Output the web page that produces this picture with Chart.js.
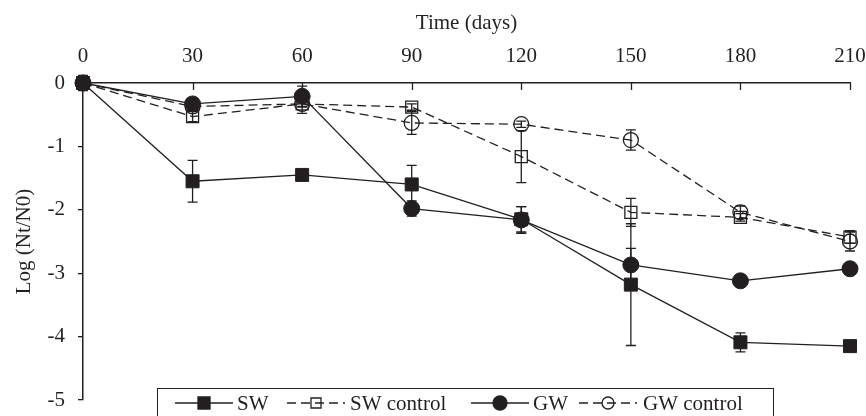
<!DOCTYPE html>
<html>
<head>
<meta charset="utf-8">
<script src="https://cdn.jsdelivr.net/npm/chart.js@4/dist/chart.umd.min.js"></script>
<style>
  html, body { margin: 0; padding: 0; background: #fff; }
  #wrap { width: 866px; height: 416px; }
</style>
</head>
<body>
<div id="wrap"><canvas id="decayChart" width="866" height="416"></canvas></div>
<script>
// Data
const days = [0, 30, 60, 90, 120, 150, 180, 210];
const xTicks = [0, 30, 60, 90, 120, 150, 180, 210];
const yTicks = [0, -1, -2, -3, -4, -5];
const yTickLabels = ['0', '-1', '-2', '-3', '-4', '-5'];

const sw = [0, -1.55, -1.45, -1.60, -2.15, -3.18, -4.09, -4.15];
const swErr = [0.12, 0.33, 0, 0.30, 0.20, 0.96, 0.15, 0];
const swControl = [0, -0.53, -0.33, -0.38, -1.16, -2.04, -2.12, -2.43];
const swControlErr = [0, 0.08, 0.05, 0.05, 0.41, 0.22, 0.06, 0.10];
const gw = [0, -0.33, -0.21, -1.98, -2.16, -2.87, -3.12, -2.93];
const gwErr = [0.05, 0.05, 0.16, 0.12, 0.21, 0.26, 0, 0];
const gwControl = [0, -0.37, -0.33, -0.63, -0.65, -0.90, -2.04, -2.50];
const gwControlErr = [0.03, 0.05, 0.15, 0.18, 0.05, 0.16, 0.10, 0.15];

const ink = '#231f20';
const dash = [9, 5];

Chart.defaults.font.family = "'Liberation Serif', 'Times New Roman', serif";
Chart.defaults.font.size = 21;
Chart.defaults.color = ink;

function points(values) {
    return days.map((d, i) => ({ x: d, y: values[i] }));
}

// Vertical error bars, drawn under the markers
const errorBars = {
    id: 'errorBars',
    beforeDatasetsDraw(chart) {
        const { ctx, scales: { x, y } } = chart;
        ctx.save();
        ctx.strokeStyle = ink;
        ctx.lineWidth = 1.3;
        chart.data.datasets.forEach(ds => {
            ds.errors.forEach((e, i) => {
                if (!e) return;
                const px = x.getPixelForValue(days[i]);
                const y1 = y.getPixelForValue(ds.data[i].y + e);
                const y2 = y.getPixelForValue(ds.data[i].y - e);
                ctx.beginPath();
                ctx.moveTo(px, y1); ctx.lineTo(px, y2);
                ctx.moveTo(px - 5, y1); ctx.lineTo(px + 5, y1);
                ctx.moveTo(px - 5, y2); ctx.lineTo(px + 5, y2);
                ctx.stroke();
            });
        });
        ctx.restore();
    }
};

// Tick marks of the top axis point down into the plot
const topTicks = {
    id: 'topTicks',
    afterDraw(chart) {
        const { ctx, chartArea, scales: { x } } = chart;
        ctx.save();
        ctx.strokeStyle = ink;
        ctx.lineWidth = 1.3;
        xTicks.forEach(v => {
            if (v === 0) return;
            const px = Math.round(x.getPixelForValue(v)) + 0.5;
            ctx.beginPath();
            ctx.moveTo(px, chartArea.top);
            ctx.lineTo(px, chartArea.top + 7);
            ctx.stroke();
        });
        ctx.restore();
    }
};

// Boxed legend at the bottom, like the original figure
const boxLegend = {
    id: 'boxLegend',
    afterDraw(chart) {
        const ctx = chart.ctx;
        const items = [
            { ds: 0, x1: 175, x2: 233, tx: 237 },
            { ds: 1, x1: 287, x2: 345, tx: 350 },
            { ds: 2, x1: 471, x2: 529, tx: 533 },
            { ds: 3, x1: 579, x2: 637, tx: 643 }
        ];
        const cy = 403;
        ctx.save();
        ctx.fillStyle = '#fff';
        ctx.fillRect(157.5, 388.5, 616, 40);
        ctx.strokeStyle = ink;
        ctx.lineWidth = 1;
        ctx.strokeRect(157.5, 388.5, 616, 40);
        items.forEach(it => {
            const ds = chart.data.datasets[it.ds];
            ctx.strokeStyle = ink;
            ctx.lineWidth = 1.3;
            ctx.setLineDash(ds.borderDash || []);
            ctx.beginPath();
            ctx.moveTo(it.x1, cy);
            ctx.lineTo(it.x2, cy);
            ctx.stroke();
            ctx.setLineDash([]);
            const mx = (it.x1 + it.x2) / 2;
            const filled = ds.pointBackgroundColor === ink;
            ctx.beginPath();
            if (ds.pointStyle === 'rect') {
                const h = filled ? 6 : 5;
                ctx.rect(mx - h, cy - h, 2 * h, 2 * h);
            } else {
                ctx.arc(mx, cy, filled ? 7 : 6, 0, Math.PI * 2);
            }
            if (filled) {
                ctx.fillStyle = ink;
                ctx.fill();
            }
            ctx.stroke();
            ctx.fillStyle = ink;
            ctx.font = "21px 'Liberation Serif', 'Times New Roman', serif";
            ctx.textBaseline = 'middle';
            ctx.textAlign = 'left';
            ctx.fillText(ds.label, it.tx, cy + 1);
        });
        ctx.restore();
    }
};

const datasets = [
    {
        label: 'SW', data: points(sw), errors: swErr, order: 1,
        borderColor: ink, borderWidth: 1.3,
        pointStyle: 'rect', pointRadius: 9.2, pointBackgroundColor: ink, pointBorderColor: ink, pointBorderWidth: 1
    },
    {
        label: 'SW control', data: points(swControl), errors: swControlErr, order: 2,
        borderColor: ink, borderWidth: 1.3, borderDash: dash,
        pointStyle: 'rect', pointRadius: 8.5, pointBackgroundColor: 'rgba(0,0,0,0)', pointBorderColor: ink, pointBorderWidth: 1.3
    },
    {
        label: 'GW', data: points(gw), errors: gwErr, order: 0,
        borderColor: ink, borderWidth: 1.3,
        pointStyle: 'circle', pointRadius: 8, pointBackgroundColor: ink, pointBorderColor: ink, pointBorderWidth: 1
    },
    {
        label: 'GW control', data: points(gwControl), errors: gwControlErr, order: 3,
        borderColor: ink, borderWidth: 1.3, borderDash: dash,
        pointStyle: 'circle', pointRadius: 7.5, pointBackgroundColor: 'rgba(0,0,0,0)', pointBorderColor: ink, pointBorderWidth: 1.3
    }
];

new Chart(document.getElementById('decayChart').getContext('2d'), {
    type: 'line',
    data: { datasets: datasets },
    options: {
        responsive: false,
        animation: false,
        clip: false,
        layout: { padding: { left: 0, top: 0, right: 16, bottom: 16 } },
        plugins: { legend: { display: false }, tooltip: { enabled: false } },
        elements: { line: { tension: 0 } },
        datasets: { line: { clip: false } },
        scales: {
            x: {
                type: 'linear',
                position: 'top',
                min: 0,
                max: 210,
                afterBuildTicks: s => { s.ticks = xTicks.map(v => ({ value: v })); },
                afterFit: s => { s.height = 83; s.paddingLeft = 0; s.paddingRight = 0; },
                grid: { display: false, drawTicks: false },
                border: { display: true, color: ink, width: 1.5 },
                ticks: { padding: 14, color: ink, maxRotation: 0 },
                title: { display: true, text: 'Time (days)', color: ink, padding: { top: 11, bottom: 0 } }
            },
            y: {
                min: -5,
                max: 0,
                afterBuildTicks: s => { s.ticks = yTicks.map(v => ({ value: v })); },
                afterFit: s => { s.width = 83; s.paddingTop = 0; s.paddingBottom = 0; },
                grid: { display: true, drawOnChartArea: false, drawTicks: true, tickLength: 5, color: ink, lineWidth: 1.3 },
                border: { display: true, color: ink, width: 1.5 },
                ticks: { padding: 13, color: ink, callback: (v, i) => yTickLabels[i] },
                title: { display: true, text: 'Log (Nt/N0)', color: ink, padding: { top: 12, bottom: 0 } }
            }
        }
    },
    plugins: [errorBars, topTicks, boxLegend]
});
</script>
</body>
</html>
